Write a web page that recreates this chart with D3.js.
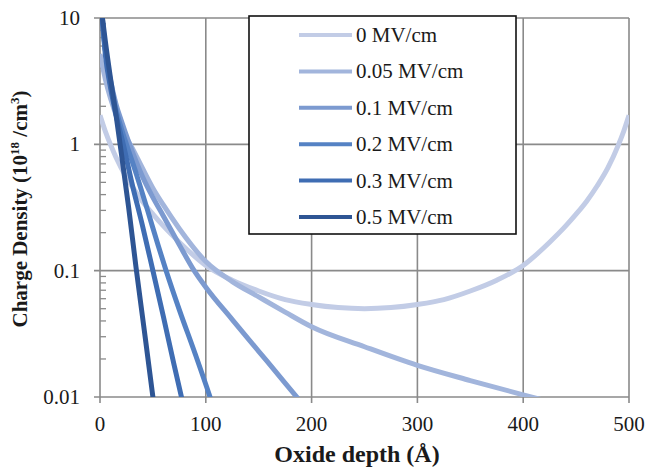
<!DOCTYPE html>
<html><head><meta charset="utf-8">
<script src="https://cdn.jsdelivr.net/npm/d3@7"></script>
<style>body{margin:0;background:#fff;} svg{display:block;font-family:"Liberation Serif","Times New Roman",serif;}</style>
</head><body>
<svg id="c" width="648" height="468"></svg>
<script>
// ---- data ----
const seriesNames = ["0 MV/cm","0.05 MV/cm","0.1 MV/cm","0.2 MV/cm","0.3 MV/cm","0.5 MV/cm"];
const x0 = [0,5,10,20,30,40,50,60,75,100,125,150,175,200,225,250,275,300,325,350,375,400,425,440,450,460,470,480,490,495,500];
const y0 = [1.70,1.27,0.99,0.65,0.47,0.355,0.28,0.225,0.168,0.110,0.084,0.069,0.059,0.054,0.051,0.050,0.051,0.054,0.059,0.069,0.084,0.110,0.168,0.225,0.28,0.355,0.47,0.65,0.99,1.27,1.70];
const x005 = [0,5,10,20,30,40,50,60,75,100,125,150,175,200,250,300,350,400,420];
const y005 = [5.2,3.3,2.3,1.35,0.95,0.65,0.45,0.33,0.215,0.118,0.082,0.062,0.047,0.036,0.025,0.0178,0.0135,0.0104,0.0094];
const x01 = [0,5,10,15,20,28,40,50,60,75,89,100,125,150,175,190];
const y01 = [17.8,5.6,3.2,2.1,1.55,1.0,0.56,0.38,0.27,0.16,0.10,0.074,0.041,0.023,0.0129,0.0091];
const x02 = [0,2,5,10,15,20,25,35,45,55,62.5,75,90,104,108];
const y02 = [15.8,10,5.6,2.95,1.9,1.35,1.0,0.56,0.30,0.158,0.10,0.049,0.0219,0.010,0.0079];
const x03 = [0,2,5,10,15,22,30,40,50,60,70,77,80];
const y03 = [14,10,5.2,2.8,1.74,1.0,0.50,0.23,0.10,0.043,0.018,0.010,0.0078];
const x05 = [0,2,5,10,15,19,27,34,42,50,53];
const y05 = [14,10.5,6.6,3.3,1.74,1.0,0.32,0.107,0.033,0.010,0.0063];
const xTicks = [0,100,200,300,400,500];
const yTicks = [0.01,0.1,1,10];
const yTickLabels = ["0.01","0.1","1","10"];
const colors = ["#c2cce6","#a2b5dc","#7c9ad0","#5582c4","#3f6db3","#2e5594"];

const seriesX = [x0,x005,x01,x02,x03,x05];
const seriesY = [y0,y005,y01,y02,y03,y05];

const svg = d3.select("#c");
const L=100,R=629,T=18,B=397;
const x = d3.scaleLinear().domain([0,500]).range([L,R]);
const y = d3.scaleLog().domain([0.01,10]).range([B,T]);
const grid="#8a8a8a";
const txt="#1a1a1a";

// grid
const g = svg.append("g");
g.selectAll(".vg").data(xTicks).join("line")
  .attr("x1",d=>x(d)).attr("x2",d=>x(d)).attr("y1",T).attr("y2",B+6)
  .attr("stroke",grid).attr("stroke-width",1.6);
g.selectAll(".hg").data(yTicks).join("line")
  .attr("x1",L-6).attr("x2",R).attr("y1",d=>y(d)).attr("y2",d=>y(d))
  .attr("stroke",grid).attr("stroke-width",1.6);
// minor ticks
const minor=[];
[0.01,0.1,1].forEach(b=>{for(let k=2;k<=9;k++)minor.push(b*k);});
g.selectAll(".mt").data(minor).join("line")
  .attr("x1",L).attr("x2",L+6).attr("y1",d=>y(d)).attr("y2",d=>y(d))
  .attr("stroke",grid).attr("stroke-width",1.3);

// clip
svg.append("clipPath").attr("id","pc").append("rect")
  .attr("x",L).attr("y",T).attr("width",R-L).attr("height",B-T);

const line = d3.line().x(d=>x(d[0])).y(d=>y(d[1])).curve(d3.curveMonotoneX);
const lg = svg.append("g").attr("clip-path","url(#pc)");
seriesX.forEach((xs,i)=>{
  const pts = xs.map((v,j)=>[v,seriesY[i][j]]);
  lg.append("path").datum(pts).attr("d",line)
    .attr("fill","none").attr("stroke",colors[i]).attr("stroke-width",5)
    .attr("stroke-linejoin","round");
});

// axis labels
svg.selectAll(".yl").data(yTicks).join("text")
  .attr("x",80).attr("y",d=>y(d)+7).attr("text-anchor","end")
  .attr("font-size",21).attr("fill",txt).text((d,i)=>yTickLabels[i]);
svg.selectAll(".xl").data(xTicks).join("text")
  .attr("x",d=>x(d)).attr("y",431).attr("text-anchor","middle")
  .attr("font-size",21).attr("fill",txt).text(d=>d);

svg.append("text").attr("x",357).attr("y",462).attr("text-anchor","middle")
  .attr("font-size",24).attr("font-weight","bold").attr("fill",txt).text("Oxide depth (Å)");
const yt = svg.append("text").attr("transform","translate(27,209) rotate(-90)")
  .attr("text-anchor","middle").attr("font-size",21).attr("font-weight","bold").attr("fill",txt);
yt.append("tspan").text("Charge Density (10");
yt.append("tspan").attr("font-size",13).attr("dy",-8).text("18");
yt.append("tspan").attr("dy",8).text(" /cm");
yt.append("tspan").attr("font-size",13).attr("dy",-8).text("3");
yt.append("tspan").attr("dy",8).text(")");

// legend
const leg = svg.append("g");
leg.append("rect").attr("x",249).attr("y",16).attr("width",267).attr("height",218)
  .attr("fill","#fff").attr("stroke","#111").attr("stroke-width",1.6);
seriesNames.forEach((n,i)=>{
  const cy = 35 + i*36.4;
  leg.append("line").attr("x1",299).attr("x2",352).attr("y1",cy).attr("y2",cy)
    .attr("stroke",colors[i]).attr("stroke-width",4);
  leg.append("text").attr("x",356).attr("y",cy+7).attr("font-size",21).attr("fill",txt).text(n);
});
</script>
</body></html>
